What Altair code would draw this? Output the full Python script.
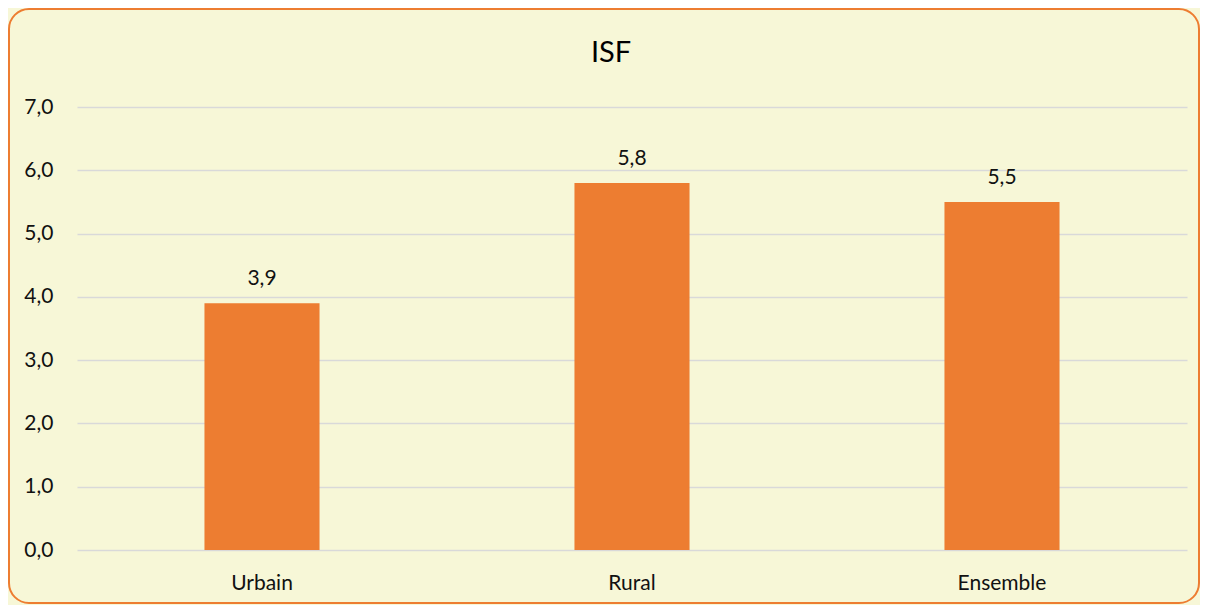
import altair as alt
import pandas as pd

categories = ["Urbain", "Rural", "Ensemble"]
values = [3.9, 5.8, 5.5]
y_ticks = [0, 1, 2, 3, 4, 5, 6, 7]
title_text = "ISF"

df = pd.DataFrame({"cat": categories, "val": values})

FONT = "Lato"
ORANGE = "#ED7D31"
BG = "#F7F7D7"

x_enc = alt.X("cat:N", sort=categories, title=None,
              scale=alt.Scale(paddingInner=0.689, paddingOuter=0.3445),
              axis=alt.Axis(labelAngle=0, domain=False, ticks=False, labelPadding=22,
                            labelFont=FONT, labelFontSize=21, labelColor="#111111"))
y_enc = alt.Y("val:Q", title=None,
              scale=alt.Scale(domain=[0, 7], nice=False),
              axis=alt.Axis(values=y_ticks, domain=False, ticks=False, labelPadding=24,
                            labelFont=FONT, labelFontSize=21, labelColor="#111111",
                            gridColor="#D9D9D9", gridWidth=1.6,
                            labelExpr="replace(format(datum.value, '.1f'), '.', ',')"))

frame = alt.Chart(pd.DataFrame({"k": [0]})).mark_rect(
    fill=None, stroke=ORANGE, strokeWidth=2, cornerRadius=20
).encode(x=alt.value(-68), x2=alt.value(1122), y=alt.value(-98), y2=alt.value(496))

bars = alt.Chart(df).mark_bar(color=ORANGE).encode(x=x_enc, y=y_enc)

labels = alt.Chart(df).transform_calculate(
    lab="replace(format(datum.val, '.1f'), '.', ',')"
).mark_text(font=FONT, fontSize=21, color="#111111", baseline="middle", dy=-24).encode(
    x=alt.X("cat:N", sort=categories), y="val:Q", text="lab:N")

title = alt.Chart(pd.DataFrame({"t": [title_text]})).mark_text(
    font=FONT, fontSize=29, color="#000000", align="center", baseline="alphabetic"
).encode(x=alt.value(534), y=alt.value(-45), text="t:N")

chart = alt.layer(bars, labels, title, frame).properties(
    width=1110, height=443,
    autosize=alt.AutoSizeParams(type="none"),
    padding={"left": 69, "top": 99, "right": 13, "bottom": 55},
    background=BG,
).configure_view(stroke=None)

chart.save("out.html", embed_options={"renderer": "svg", "actions": False})
